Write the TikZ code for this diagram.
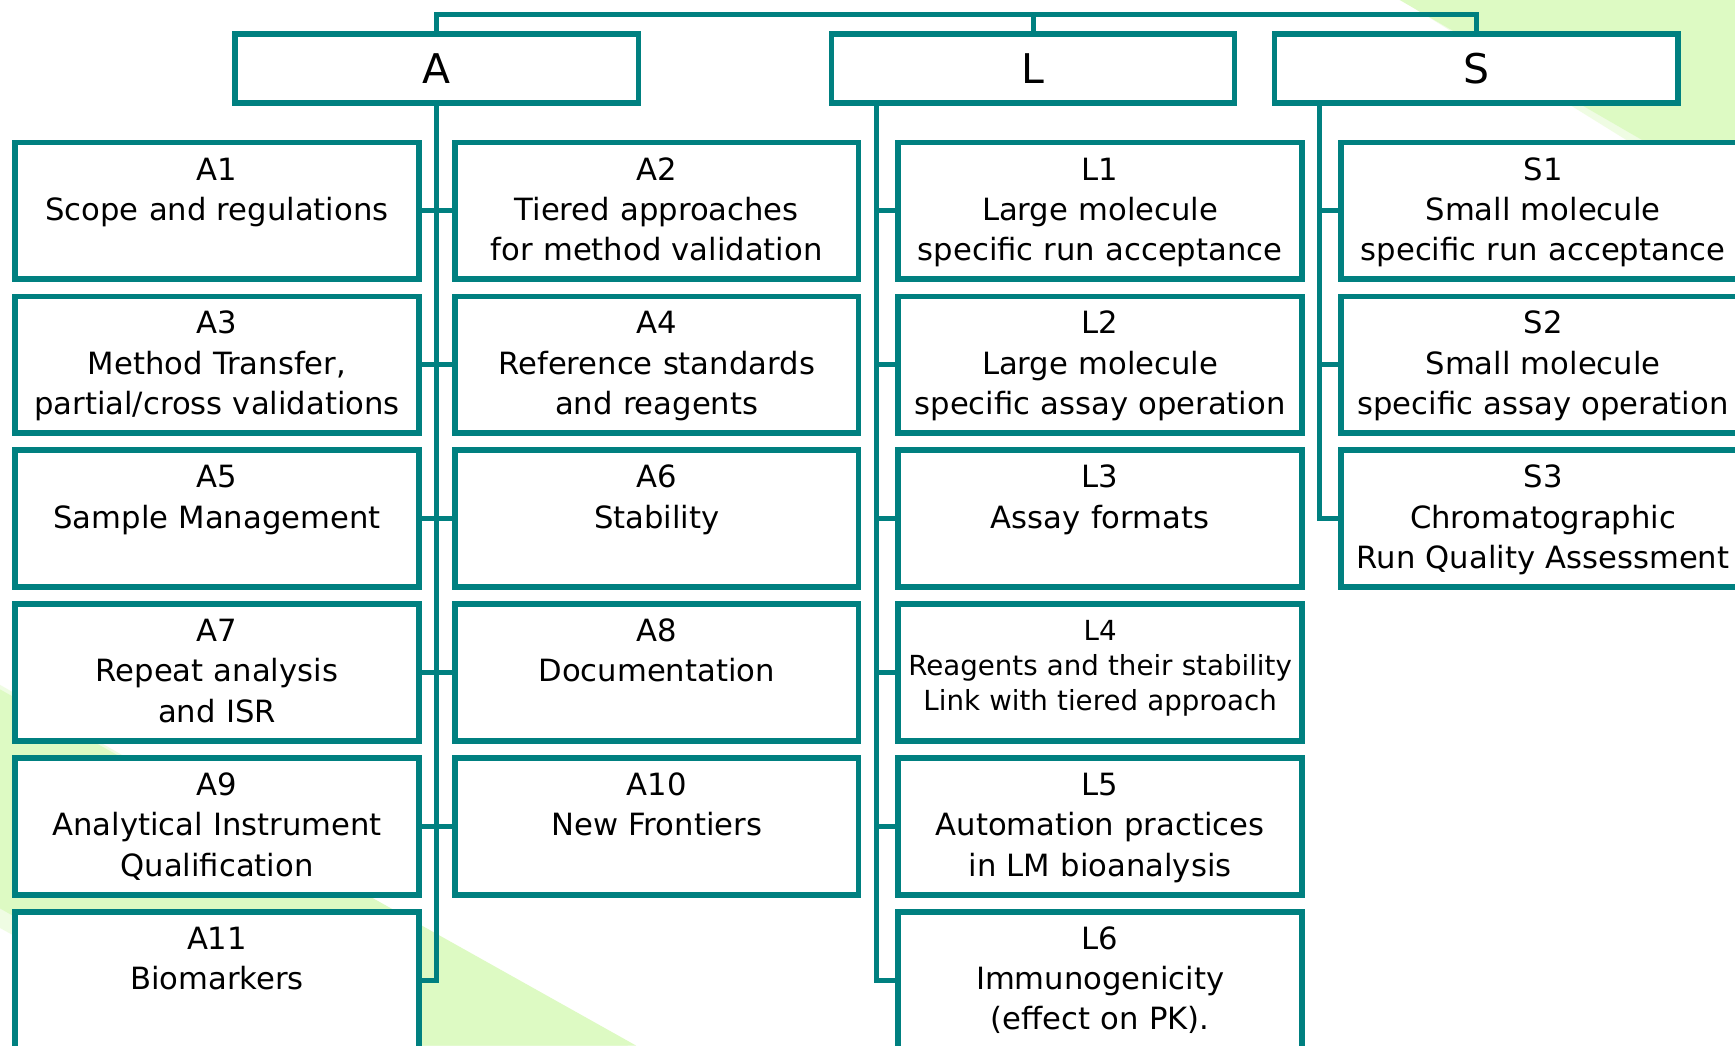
\documentclass[tikz,border=0pt]{standalone}
\usepackage{fontspec}
\setmainfont{DejaVu Sans}
\usetikzlibrary{calc}
\definecolor{frame}{RGB}{0,128,128}
\definecolor{leaf}{RGB}{221,250,195}

\begin{document}
\begin{tikzpicture}[x=1pt,y=-1pt,
  hbox/.style={draw=frame, line width=5pt, fill=white, inner sep=0pt,
    minimum width=364.5pt, minimum height=62.3pt,
    font=\fontsize{37pt}{44pt}\selectfont},
  tbox/.style={draw=frame, line width=5pt, fill=white, inner sep=0pt,
    text width=365pt, align=center, anchor=north,
    text height=34pt, text depth=89.6pt,
    font=\fontsize{27.7pt}{36.3pt}\selectfont},
  smallbox/.style={tbox, text height=32.5pt, text depth=91.1pt,
    font=\fontsize{25pt}{32pt}\selectfont},
  link/.style={draw=frame, line width=4.6pt, line join=miter}
]
\useasboundingbox (0,0) rectangle (1568,945);
\clip (0,0) rectangle (1568,945);
\fill[white] (0,0) rectangle (1568,945);

% pale green streaks in the backdrop, with soft edges
\fill[leaf, opacity=0.45] (-12,612) -- (585,955) -- (210,955) -- (-12,832) -- cycle;
\fill[leaf] (0,623) -- (575,945) -- (221,945) -- (0,821) -- cycle;
\fill[leaf, opacity=0.45] (1250,-10) -- (1580,-10) -- (1580,195) -- cycle;
\fill[leaf] (1265,0) -- (1568,0) -- (1568,175) -- cycle;

% group headers
\node[hbox] (A) at (394.8,61.9) {A};
\node[hbox] (L) at (933.6,61.9) {L};
\node[hbox] (S) at (1334.2,61.9) {S};

% column A
\node[tbox] (A1)  at (196.1,126.2) {A1\\Scope and regulations};
\node[tbox] (A2)  at (593.5,126.2) {A2\\Tiered approaches\\for method validation};
\node[tbox] (A3)  at (196.1,265.3) {A3\\Method Transfer,\\partial/cross validations};
\node[tbox] (A4)  at (593.5,265.3) {A4\\Reference standards\\and reagents};
\node[tbox] (A5)  at (196.1,404.4) {A5\\Sample Management};
\node[tbox] (A6)  at (593.5,404.4) {A6\\Stability};
\node[tbox] (A7)  at (196.1,543.5) {A7\\Repeat analysis\\and ISR};
\node[tbox] (A8)  at (593.5,543.5) {A8\\Documentation};
\node[tbox] (A9)  at (196.1,682.6) {A9\\Analytical Instrument\\Qualification};
\node[tbox] (A10) at (593.5,682.6) {A10\\New Frontiers};
\node[tbox] (A11) at (196.1,821.7) {A11\\Biomarkers};

% column L
\node[tbox] (L1) at (994.2,126.2) {L1\\Large molecule\\specific run acceptance};
\node[tbox] (L2) at (994.2,265.3) {L2\\Large molecule\\specific assay operation};
\node[tbox] (L3) at (994.2,404.4) {L3\\Assay formats};
\node[smallbox] (L4) at (994.2,543.5) {L4\\Reagents and their stability\\Link with tiered approach};
\node[tbox] (L5) at (994.2,682.6) {L5\\Automation practices\\in LM bioanalysis};
\node[tbox] (L6) at (994.2,821.7) {L6\\Immunogenicity\\(effect on PK).};

% column S
\node[tbox] (S1) at (1394.5,126.2) {S1\\Small molecule\\specific run acceptance};
\node[tbox] (S2) at (1394.5,265.3) {S2\\Small molecule\\specific assay operation};
\node[tbox] (S3) at (1394.5,404.4) {S3\\Chromatographic\\Run Quality Assessment};

% top bar joining the three headers
\coordinate (bar) at (0,12.8);
\draw[link] (A.north) |- (bar -| L.north) -| (S.north);
\draw[link] (L.north) -- (bar -| L.north);

% trunk of A with stubs on both sides
\draw[link] (A.south) |- (A11.east);
\foreach \l/\r in {A1/A2,A3/A4,A5/A6,A7/A8,A9/A10}
  \draw[link] (\l.east) -- (\r.west);

% trunk of L
\coordinate (Lt) at ($(L.south west)+(43.4,0)$);
\draw[link] (Lt) |- (L6.west);
\foreach \n in {L1,L2,L3,L4,L5}
  \draw[link] (Lt |- \n.west) -- (\n.west);

% trunk of S
\coordinate (St) at ($(S.south west)+(43.4,0)$);
\draw[link] (St) |- (S3.west);
\foreach \n in {S1,S2}
  \draw[link] (St |- \n.west) -- (\n.west);
\end{tikzpicture}
\end{document}
